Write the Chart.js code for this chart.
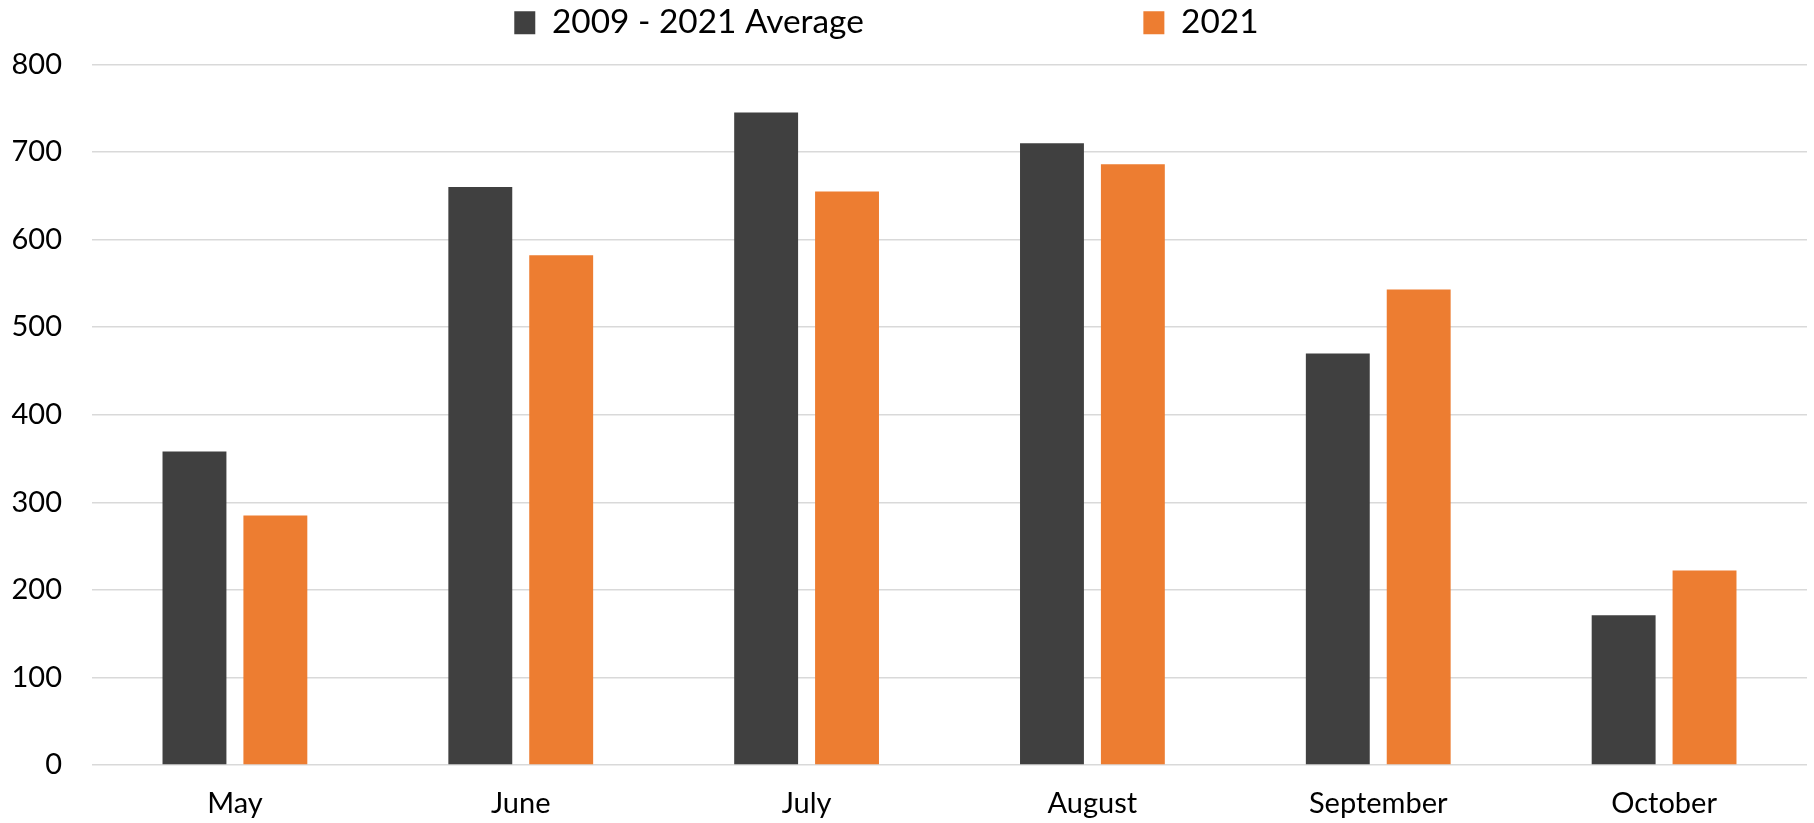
<!DOCTYPE html>
<html>
<head>
<meta charset="utf-8">
<script src="https://cdn.jsdelivr.net/npm/chart.js@4/dist/chart.umd.min.js"></script>
<style>
  html, body { margin: 0; padding: 0; background: #ffffff; }
  #wrap { width: 1814px; height: 823px; }
</style>
</head>
<body>
<div id="wrap"><canvas id="c" width="1814" height="823"></canvas></div>
<script>
const categories = ["May", "June", "July", "August", "September", "October"];
const seriesNames = ["2009 - 2021 Average", "2021"];
const averageValues = [358, 660, 745, 710, 470, 171];
const values2021 = [285, 582, 655, 686, 543, 222];
const yTicks = [0, 100, 200, 300, 400, 500, 600, 700, 800];

const DARK = "#404040";
const ORANGE = "#ED7D31";
const FONT = "Lato, 'Open Sans', sans-serif";

// adds empty space under the legend so the plot starts lower
const legendSpacer = {
  id: "legendSpacer",
  afterInit(chart) {
    const lg = chart.legend;
    if (!lg) return;
    const origFit = lg.fit.bind(lg);
    lg.fit = function() { origFit(); this.height += 15; };
  }
};

const ctx = document.getElementById("c").getContext("2d");
new Chart(ctx, {
  type: "bar",
  data: {
    labels: categories,
    datasets: [
      { label: seriesNames[0], data: averageValues, backgroundColor: DARK,
        barPercentage: 0.79, categoryPercentage: 0.566 },
      { label: seriesNames[1], data: values2021, backgroundColor: ORANGE,
        barPercentage: 0.79, categoryPercentage: 0.566 }
    ]
  },
  plugins: [legendSpacer],
  options: {
    responsive: false,
    animation: false,
    devicePixelRatio: 1,
    layout: { padding: { top: 0, right: 7, bottom: 0, left: 0 } },
    plugins: {
      tooltip: { enabled: false },
      legend: {
        display: true,
        position: "top",
        align: "center",
        labels: {
          color: "#000000",
          font: { family: FONT, size: 33.4 },
          boxWidth: 21,
          boxHeight: 23,
          padding: 6,
          generateLabels: function(chart) {
            const items = Chart.defaults.plugins.legend.labels.generateLabels(chart);
            items.forEach(function(it, i) {
              it.lineWidth = 0;
              it.strokeStyle = "rgba(0,0,0,0)";
              if (i === 0) it.text = it.text + " ".repeat(32);
              if (i === 1) it.text = it.text + " ".repeat(4);
            });
            return items;
          }
        }
      }
    },
    scales: {
      x: {
        afterFit: function(scale) { scale.height = 58; },
        grid: { display: false, drawTicks: false },
        border: { display: false },
        ticks: { color: "#000000", font: { family: FONT, size: 29 }, padding: 21 }
      },
      y: {
        min: 0,
        max: 800,
        afterFit: function(scale) { scale.width = 92; },
        afterBuildTicks: function(scale) {
          scale.ticks = yTicks.map(function(v) { return { value: v }; });
        },
        grid: { color: "#d9d9d9", lineWidth: 1.5, drawTicks: false },
        border: { display: false },
        ticks: { color: "#000000", font: { family: FONT, size: 29 }, padding: 30 }
      }
    }
  }
});
</script>
</body>
</html>
